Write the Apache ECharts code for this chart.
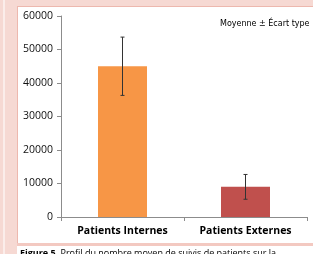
<!doctype html>
<html>
<head>
<meta charset="utf-8">
<script src="https://cdn.jsdelivr.net/npm/echarts@6/dist/echarts.min.js"></script>
<style>
	html, body { margin: 0; padding: 0; background: #fff; }
	#main { width: 313px; height: 254px; }
</style>
</head>
<body>
<div id="main"></div>
<script>
	// données
	var categories = ['Patients Internes', 'Patients Externes'];
	var moyennes = [45000, 9000];
	var ecartTypes = [8700, 3700];
	var couleurs = ['#F79646', '#C0504D'];
	var yTicks = [0, 10000, 20000, 30000, 40000, 50000, 60000];

	var chart = echarts.init(document.getElementById('main'));

	var barData = moyennes.map(function (v, i) {
		return { value: v, itemStyle: { color: couleurs[i] } };
	});
	var errData = moyennes.map(function (v, i) {
		return [i, v - ecartTypes[i], v + ecartTypes[i]];
	});

	var option = {
		animation: false,
		backgroundColor: '#fff',
		grid: { left: 61, right: 6, top: 16, bottom: 37 },
		graphic: [
			// cadre rose autour de la figure
			{ type: 'rect', shape: { x: 0, y: 0, width: 313, height: 6 }, style: { fill: '#F6D9D3' }, silent: true },
			{ type: 'rect', shape: { x: 0, y: 6, width: 313, height: 1 }, style: { fill: '#EDB8AE' }, silent: true },
			{ type: 'rect', shape: { x: 0, y: 0, width: 17, height: 254 }, style: { fill: '#F6D9D3' }, silent: true },
			{ type: 'rect', shape: { x: 17, y: 6, width: 1, height: 238 }, style: { fill: '#EDB8AE' }, silent: true },
			{ type: 'rect', shape: { x: 3, y: 0, width: 2, height: 254 }, style: { fill: '#FBEDEA' }, silent: true },
			{ type: 'rect', shape: { x: 17, y: 243, width: 296, height: 3 }, style: { fill: '#F3C9C1' }, silent: true },
			{
				type: 'text', left: 220, top: 20,
				style: { text: 'Moyenne \u00b1 \u00c9cart type', fill: '#000', font: '8px "DejaVu Sans"' }
			},
			{
				type: 'text', left: 20, top: 249,
				style: {
					text: '{b|Figure 5.} Profil du nombre moyen de suivis de patients sur la',
					fill: '#000', font: '9px "Open Sans"',
					rich: { b: { fontWeight: 'bold', fontSize: 9, fontFamily: 'Open Sans', fill: '#000' } }
				}
			}
		],
		xAxis: {
			type: 'category',
			data: categories,
			axisLine: { lineStyle: { color: '#8C8C8C', width: 1 } },
			axisTick: { show: true, length: 4, alignWithLabel: false, lineStyle: { color: '#8C8C8C' } },
			axisLabel: { interval: 0, color: '#000', fontWeight: 'bold', fontSize: 10.5, fontFamily: 'Open Sans', margin: 9 }
		},
		yAxis: {
			type: 'value',
			min: yTicks[0],
			max: yTicks[yTicks.length - 1],
			interval: 10000,
			splitLine: { show: false },
			axisLine: { show: true, lineStyle: { color: '#8C8C8C', width: 1 } },
			axisTick: { show: true, length: 4, lineStyle: { color: '#8C8C8C' } },
			axisLabel: {
				color: '#111', fontSize: 10.5, fontFamily: 'Open Sans', margin: 8,
				formatter: function (v) { return String(v); }
			}
		},
		series: [
			{
				type: 'bar',
				data: barData,
				barWidth: 49
			},
			{
				type: 'custom',
				data: errData,
				z: 10,
				renderItem: function (params, api) {
					var x = api.value(0);
					var bas = api.coord([x, api.value(1)]);
					var haut = api.coord([x, api.value(2)]);
					var w = 2;
					var st = { stroke: '#333', lineWidth: 1 };
					return {
						type: 'group',
						children: [
							{ type: 'line', shape: { x1: haut[0], y1: haut[1], x2: bas[0], y2: bas[1] }, style: st },
							{ type: 'line', shape: { x1: haut[0] - w, y1: haut[1], x2: haut[0] + w, y2: haut[1] }, style: st },
							{ type: 'line', shape: { x1: bas[0] - w, y1: bas[1], x2: bas[0] + w, y2: bas[1] }, style: st }
						]
					};
				}
			}
		]
	};
	chart.setOption(option);
</script>
</body>
</html>
